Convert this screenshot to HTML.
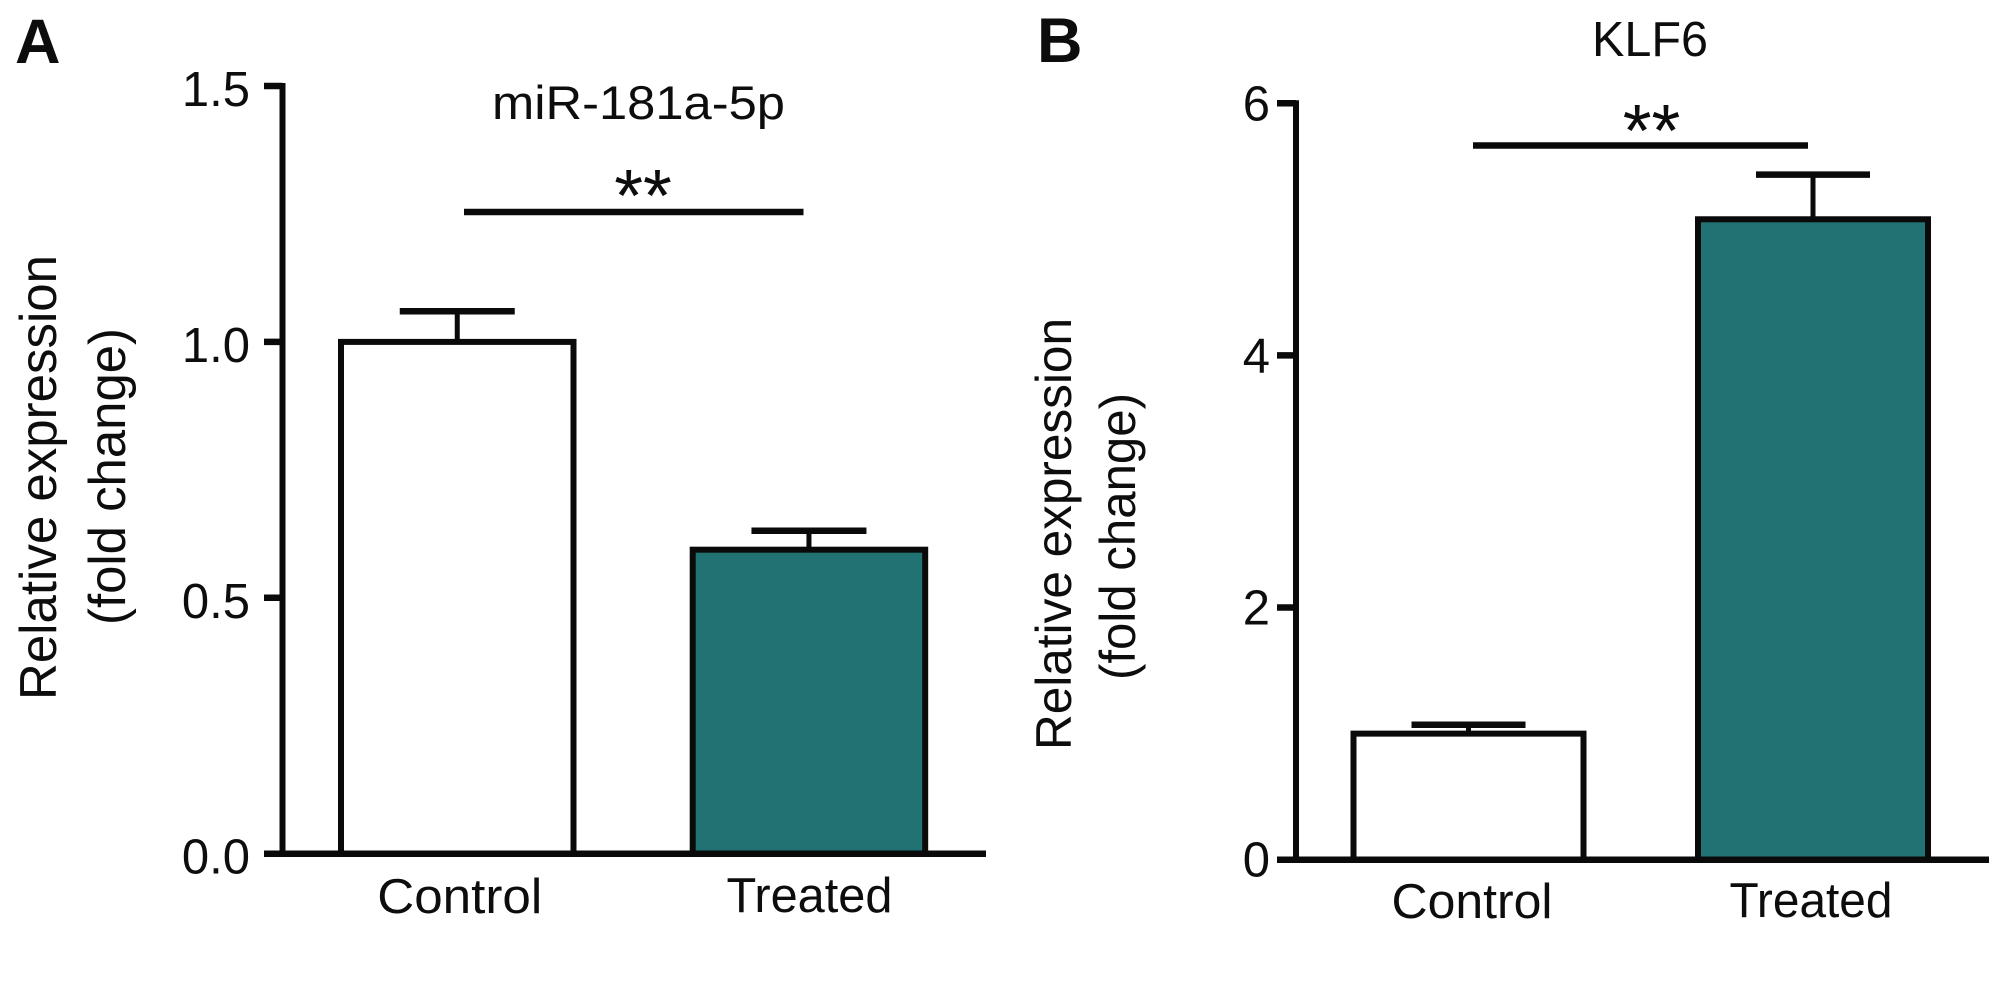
<!DOCTYPE html>
<html lang="en">
<head>
<meta charset="utf-8">
<title>miR-181a-5p and KLF6 relative expression</title>
<style>
  html, body { margin: 0; padding: 0; background: #ffffff; width: 2008px; height: 993px; overflow: hidden; }
  svg { display: block; }
  text { font-family: "Liberation Sans", Arial, sans-serif; fill: #0d0d0d; }
</style>
</head>
<body>
<svg id="figure" xmlns="http://www.w3.org/2000/svg" width="2008" height="993" viewBox="0 0 2008 993">
  <rect x="0" y="0" width="2008" height="993" fill="#ffffff"/>

  <text x="15" y="63" font-size="63" font-weight="700" fill="#000">A</text>
  <text x="1037" y="62" font-size="63" font-weight="700" fill="#000">B</text>

  <text x="492" y="119" font-size="47" textLength="293" lengthAdjust="spacingAndGlyphs">miR-181a-5p</text>
  <text x="1592" y="56" font-size="49" textLength="116" lengthAdjust="spacingAndGlyphs">KLF6</text>

  <text transform="translate(56,700) rotate(-90)" font-size="52" textLength="445" lengthAdjust="spacingAndGlyphs">Relative expression</text>
  <text transform="translate(125,625) rotate(-90)" font-size="52" textLength="297" lengthAdjust="spacingAndGlyphs">(fold change)</text>
  <text transform="translate(1071,750) rotate(-90)" font-size="50" textLength="432" lengthAdjust="spacingAndGlyphs">Relative expression</text>
  <text transform="translate(1135,680) rotate(-90)" font-size="50" textLength="287" lengthAdjust="spacingAndGlyphs">(fold change)</text>

  <g id="panel-a"></g>
  <g id="panel-b"></g>
</svg>

<script>
// ---- chart data ----
const categories = ['Control', 'Treated'];
const panelAValues = [1.0, 0.594];
const panelAErrors = [0.06, 0.037];
const panelATicks = [0, 0.5, 1.0, 1.5];
const panelATickLabels = ['0.0', '0.5', '1.0', '1.5'];
const panelBValues = [1.0, 5.08];
const panelBErrors = [0.07, 0.354];
const panelBTicks = [0, 2, 4, 6];
const panelBTickLabels = ['0', '2', '4', '6'];

const SVG_NS = 'http://www.w3.org/2000/svg';
const STROKE = '#0a0a0a';
const FILLS = ['#ffffff', '#217272'];

function addLine(parent, x1, y1, x2, y2, width) {
  const el = document.createElementNS(SVG_NS, 'line');
  el.setAttribute('x1', x1);
  el.setAttribute('y1', y1);
  el.setAttribute('x2', x2);
  el.setAttribute('y2', y2);
  el.setAttribute('stroke', STROKE);
  el.setAttribute('stroke-width', width);
  parent.appendChild(el);
  return el;
}

function addLabel(parent, str, x, y, size, anchor, len) {
  const el = document.createElementNS(SVG_NS, 'text');
  el.setAttribute('x', x);
  el.setAttribute('y', y);
  el.setAttribute('font-size', size);
  el.setAttribute('text-anchor', anchor);
  if (len) {
    el.setAttribute('textLength', len);
    el.setAttribute('lengthAdjust', 'spacingAndGlyphs');
  }
  el.textContent = str;
  parent.appendChild(el);
  return el;
}

function drawPanel(cfg) {
  const root = document.getElementById(cfg.id);
  const yScale = v => cfg.y0 - (v - 0) * cfg.unit;
  const topValue = cfg.ticks[cfg.ticks.length - 1];
  const barLeft = i => cfg.barX + i * cfg.barStep;
  const barCenter = i => barLeft(i) + cfg.barW / 2;

  // bars and error bars
  cfg.values.forEach((v, i) => {
    const stem = addLine(root, barCenter(i), yScale(v), barCenter(i), yScale(v + cfg.errors[i]), 5);
    
    

    const cap = addLine(root, barCenter(i) - cfg.capW / 2, yScale(v + cfg.errors[i]), barCenter(i) + cfg.capW / 2, yScale(v + cfg.errors[i]), 6.5);
    
    

    const bar = document.createElementNS(SVG_NS, 'rect');
    bar.setAttribute('x', barLeft(i));
    bar.setAttribute('y', yScale(v));
    bar.setAttribute('width', cfg.barW);
    bar.setAttribute('height', yScale(0) - yScale(v));
    bar.setAttribute('fill', FILLS[i]);
    bar.setAttribute('stroke', STROKE);
    bar.setAttribute('stroke-width', 6);
    
    
    root.appendChild(bar);

    const label = addLabel(root, categories[i], barCenter(i) + cfg.labelShift[i], cfg.labelY[i], 49, 'middle', cfg.labelLen[i]);
    
    
  });

  // axes
  const yAxis = addLine(root, cfg.axisX, yScale(topValue) - 3, cfg.axisX, yScale(0) + 3, 6);
  
  

  const xAxis = addLine(root, cfg.axisX, yScale(0), cfg.axisEnd, yScale(0), 6.5);
  
  

  cfg.ticks.forEach((t, i) => {
    const tick = addLine(root, cfg.tickX, yScale(t), cfg.axisX, yScale(t), 6.5);
    
    

    const label = addLabel(root, cfg.tickLabels[i], cfg.tickLabelX, yScale(t) + cfg.tickLabelDy, 49, 'end');
    
    
  });

  // significance marker
  const sig = addLine(root, cfg.sigX1, cfg.sigY, cfg.sigX2, cfg.sigY, 6.5);
  
  

  const stars = addLabel(root, '**', cfg.starX, cfg.starY, 74, 'middle');
  
  
}

drawPanel({
  id: 'panel-a', values: panelAValues, errors: panelAErrors, ticks: panelATicks, tickLabels: panelATickLabels,
  y0: 853.7, unit: 511.8, axisX: 282.5, axisEnd: 986, tickX: 264,
  tickLabelX: 250, tickLabelDy: 20,
  barX: 341, barW: 232.5, barStep: 351.7, capW: 115,
  labelShift: [2.5, 0.5], labelY: [913, 912], labelLen: [165, 166],
  sigX1: 464, sigX2: 803.5, sigY: 212, starX: 643, starY: 221
});

drawPanel({
  id: 'panel-b', values: panelBValues, errors: panelBErrors, ticks: panelBTicks, tickLabels: panelBTickLabels,
  y0: 859.7, unit: 126.07, axisX: 1296, axisEnd: 1989, tickX: 1277,
  tickLabelX: 1270, tickLabelDy: 17,
  barX: 1353.5, barW: 230, barStep: 344.5, capW: 114,
  labelShift: [3.5, -2], labelY: [918, 917], labelLen: [161, 163],
  sigX1: 1473, sigX2: 1808, sigY: 145.5, starX: 1651.5, starY: 156
});
</script>
</body>
</html>
